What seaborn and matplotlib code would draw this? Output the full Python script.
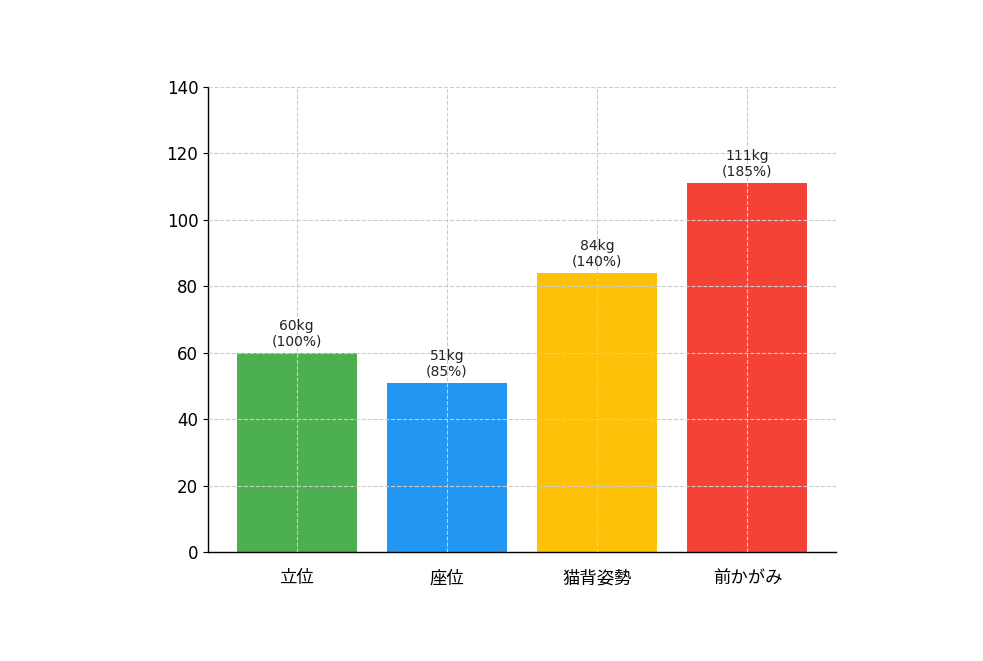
import matplotlib
matplotlib.use('Agg')
import matplotlib.pyplot as plt
import seaborn as sns
import pandas as pd

# データ
categories = ['立位', '座位', '猫背姿勢', '前かがみ']
weights = [60, 51, 84, 111]
percents = [100, 85, 140, 185]
colors = ['#4CAF50', '#2196F3', '#FFC107', '#F44336']

sns.set_style('white')
plt.rcParams['font.family'] = ['DejaVu Sans', 'Noto Sans CJK JP']

datos = pd.DataFrame({'姿勢': categories, '負荷': weights})

fig = plt.figure(figsize=(9.83, 6.61), dpi=100)
ax = fig.add_axes([0.2116, 0.1649, 0.6389, 0.7035])

sns.barplot(data=datos, x='姿勢', y='負荷', hue='姿勢', palette=colors,
            legend=False, width=0.8, saturation=1, linewidth=0,
            edgecolor='none', ax=ax)

for i, (w, p) in enumerate(zip(weights, percents)):
    ax.text(i, w + 1.3, f'{w}kg\n({p}%)', ha='center', va='bottom',
            fontsize=10, color='#222222', linespacing=1.15)

ax.set_ylim(0, 140)
ax.set_xlim(-0.59, 3.59)
ax.set_xlabel('')
ax.set_ylabel('')
ax.grid(True, linestyle='--', color='#cccccc', linewidth=0.8)
ax.set_axisbelow(False)

for lado in ['top', 'right']:
    ax.spines[lado].set_visible(False)
for lado in ['left', 'bottom']:
    ax.spines[lado].set_color('black')
    ax.spines[lado].set_linewidth(1.0)

ax.tick_params(axis='y', labelsize=12, left=True, length=3.5, color='black',
               labelcolor='black')
ax.tick_params(axis='x', labelsize=12.5, bottom=False, pad=9, labelcolor='black')
for etiqueta in ax.get_xticklabels():
    etiqueta.set_family(['Noto Sans CJK JP', 'DejaVu Sans'])

fig.savefig('out.png', dpi=100)
plt.close(fig)
